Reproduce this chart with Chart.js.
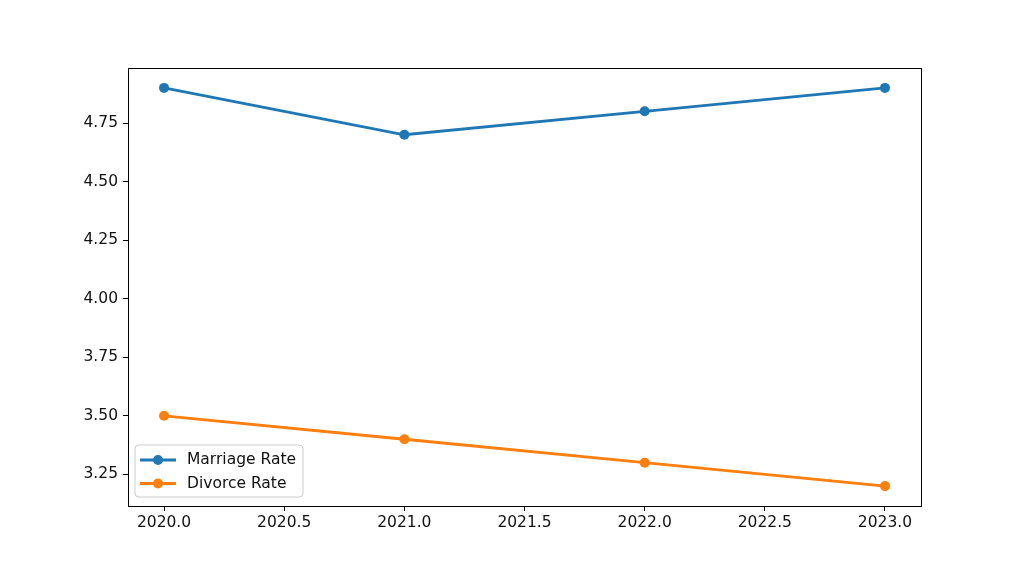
<!DOCTYPE html>
<html>
<head>
<meta charset="utf-8">
<script src="https://cdn.jsdelivr.net/npm/chart.js@4.4.0/dist/chart.umd.min.js"></script>
<style>
  html, body { margin: 0; padding: 0; background: #fff; }
  #wrap { width: 1024px; height: 569px; }
</style>
</head>
<body>
<div id="wrap"><canvas id="canvas" width="1024" height="569"></canvas></div>
<script>
var years = [2020, 2021, 2022, 2023];
var marriageRate = [4.9, 4.7, 4.8, 4.9];
var divorceRate = [3.5, 3.4, 3.3, 3.2];
var xTicks = [2020.0, 2020.5, 2021.0, 2021.5, 2022.0, 2022.5, 2023.0];
var yTicks = [3.25, 3.50, 3.75, 4.00, 4.25, 4.50, 4.75];

var FONT = "'DejaVu Sans', sans-serif";
var FONT_SIZE = 15.5;
var LINE_W = 2.8;
var POINT_R = 5;

// cadre du graphique + légende façon matplotlib
var framePlugin = {
    id: 'frame',
    afterDatasetsDraw: function (chart) {
        var ctx = chart.ctx;
        var a = chart.chartArea;
        ctx.save();
        ctx.strokeStyle = '#000';
        ctx.lineWidth = 1;
        ctx.strokeRect(Math.round(a.left) + 0.5, Math.round(a.top) + 0.5,
            Math.round(a.right - a.left), Math.round(a.bottom - a.top));

        // légende
        var bx = 135, by = 445, bw = 168, bh = 52, r = 4;
        ctx.beginPath();
        ctx.moveTo(bx + r, by);
        ctx.arcTo(bx + bw, by, bx + bw, by + bh, r);
        ctx.arcTo(bx + bw, by + bh, bx, by + bh, r);
        ctx.arcTo(bx, by + bh, bx, by, r);
        ctx.arcTo(bx, by, bx + bw, by, r);
        ctx.closePath();
        ctx.fillStyle = 'rgba(255,255,255,0.8)';
        ctx.fill();
        ctx.strokeStyle = '#cccccc';
        ctx.lineWidth = 1;
        ctx.stroke();

        ctx.font = FONT_SIZE + 'px ' + FONT;
        ctx.textBaseline = 'middle';
        chart.data.datasets.forEach(function (ds, i) {
            var y = 460 + i * 23.5;
            ctx.strokeStyle = ds.borderColor;
            ctx.lineWidth = LINE_W;
            ctx.beginPath();
            ctx.moveTo(140, y);
            ctx.lineTo(176, y);
            ctx.stroke();
            ctx.fillStyle = ds.borderColor;
            ctx.beginPath();
            ctx.arc(158, y, POINT_R, 0, Math.PI * 2);
            ctx.fill();
            ctx.fillStyle = '#111';
            ctx.fillText(ds.label, 187, y);
        });
        ctx.restore();
    }
};

function toPoints(xs, ys) {
    return xs.map(function (x, i) { return { x: x, y: ys[i] }; });
}

window.onload = function () {
    var ctx = document.getElementById('canvas').getContext('2d');
    window.myLine = new Chart(ctx, {
        type: 'line',
        data: {
            datasets: [{
                label: 'Marriage Rate',
                data: toPoints(years, marriageRate),
                borderColor: '#1f77b4',
                backgroundColor: '#1f77b4',
                borderWidth: LINE_W,
                pointRadius: POINT_R,
                pointBorderWidth: 0,
                tension: 0
            }, {
                label: 'Divorce Rate',
                data: toPoints(years, divorceRate),
                borderColor: '#ff7f0e',
                backgroundColor: '#ff7f0e',
                borderWidth: LINE_W,
                pointRadius: POINT_R,
                pointBorderWidth: 0,
                tension: 0
            }]
        },
        options: {
            responsive: false,
            animation: false,
            events: [],
            layout: { padding: { left: 0, right: 103, top: 68, bottom: 0 } },
            plugins: {
                legend: { display: false },
                tooltip: { enabled: false }
            },
            scales: {
                x: {
                    type: 'linear',
                    min: 2019.85,
                    max: 2023.15,
                    afterBuildTicks: function (axis) {
                        axis.ticks = xTicks.map(function (v) { return { value: v }; });
                    },
                    afterFit: function (axis) { axis.height = 63; },
                    grid: { drawOnChartArea: false, drawTicks: true, tickLength: 5, color: '#000' },
                    border: { display: false },
                    ticks: {
                        color: '#111',
                        font: { family: FONT, size: FONT_SIZE },
                        padding: 3,
                        maxRotation: 0,
                        callback: function (v) { return Number(v).toFixed(1); }
                    }
                },
                y: {
                    type: 'linear',
                    min: 3.115,
                    max: 4.985,
                    afterBuildTicks: function (axis) {
                        axis.ticks = yTicks.map(function (v) { return { value: v }; });
                    },
                    afterFit: function (axis) { axis.width = 128; },
                    grid: { drawOnChartArea: false, drawTicks: true, tickLength: 5, color: '#000' },
                    border: { display: false },
                    ticks: {
                        color: '#111',
                        font: { family: FONT, size: FONT_SIZE },
                        padding: 5,
                        callback: function (v) { return Number(v).toFixed(2); }
                    }
                }
            }
        },
        plugins: [framePlugin]
    });
};
</script>
</body>
</html>
